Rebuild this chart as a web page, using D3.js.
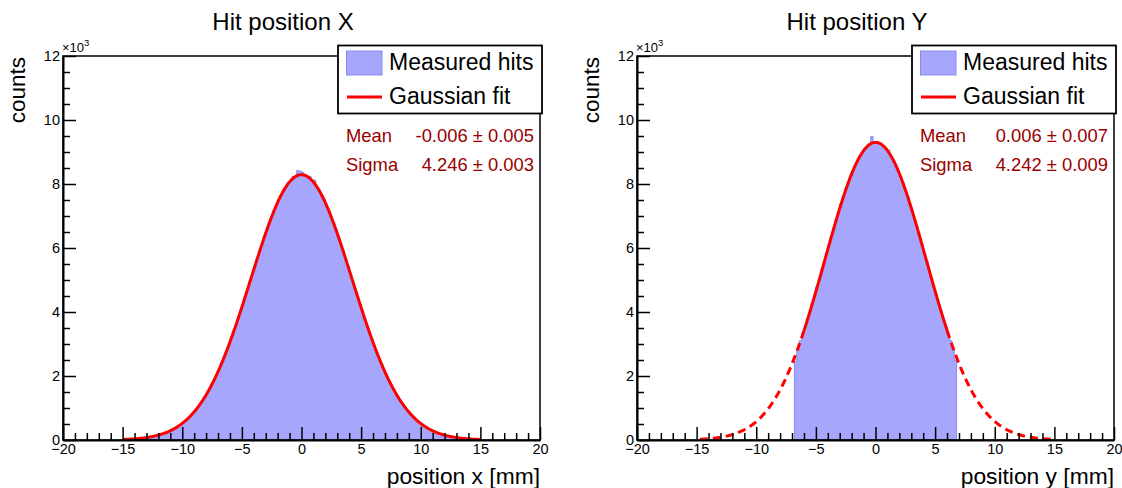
<!DOCTYPE html>
<html>
<head>
<meta charset="utf-8">
<script src="https://cdn.jsdelivr.net/npm/d3@7"></script>
<style>
  body { margin: 0; background: #fff; }
  svg { display: block; }
  text { font-family: "Liberation Sans", Arial, Helvetica, sans-serif; }
</style>
</head>
<body>
<svg id="chart" width="1122" height="488"></svg>
<script>
// ---- data -------------------------------------------------------------
const binWidth = 0.2;            // mm per bin

// Hit position X: bins from -15 mm to +15 mm
const xHistLow = -15;
const xCounts = [
  17, 22, 23, 30, 32, 41, 44, 55, 60, 73, 80, 97, 107, 128, 141, 166, 183, 215, 237, 276,
  303, 351, 386, 442, 486, 553, 604, 686, 748, 841, 916, 1024, 1111, 1235, 1337, 1478, 1592, 1751, 1883, 2060,
  2205, 2398, 2560, 2770, 2945, 3170, 3355, 3596, 3790, 4045, 4248, 4510, 4715, 4980, 5188, 5452, 5660, 5918, 6115, 6370,
  6552, 6790, 6955, 7180, 7318, 7525, 7630, 7815, 7890, 8050, 8085, 8230, 8200, 8420, 8400,
  8360, 8290, 8215, 8240, 8090, 8120, 7870, 7810, 7610, 7520, 7300, 7175, 6950, 6790, 6550,
  6365, 6110, 5915, 5660, 5445, 5190, 4975, 4720, 4500, 4250, 4040, 3795, 3590, 3360, 3165, 2948, 2765, 2562, 2394, 2208,
  2056, 1885, 1748, 1596, 1474, 1340, 1231, 1114, 1020, 918, 838, 750, 683, 607, 551, 487, 440, 388, 350, 305,
  275, 238, 214, 184, 165, 141, 127, 108, 96, 81, 72, 60, 54, 45, 40, 32, 30, 23, 22, 17
];

// Hit position Y: bins from -6.8 mm to +6.8 mm
const yHistLow = -6.8;
const yCounts = [
  2450, 2820, 3100, 3330, 3530, 3790, 4010, 4280, 4510, 4790, 5030, 5320, 5560, 5850, 6090, 6375, 6610,
  6890, 7110, 7380, 7585, 7840, 8010, 8245, 8400, 8600, 8720, 8890, 8975, 9110, 9150, 9260, 9480, 9320,
  9330, 9260, 9270, 9150, 9110, 9060, 8850, 8760, 8570, 8430, 8215, 8050, 7810, 7615, 7350, 7140, 6860,
  6635, 6350, 6115, 5820, 5585, 5290, 5055, 4765, 4535, 4255, 4030, 3765, 3555, 3300, 3105, 2830, 2500
];

// Gaussian fit results
const fitX = { constant: 8290, mean: -0.006, meanErr: 0.005, sigma: 4.246, sigmaErr: 0.003, range: [-15, 15] };
const fitY = { constant: 9300, mean: 0.006, meanErr: 0.007, sigma: 4.242, sigmaErr: 0.009, range: [-6, 6] };
const drawRange = [-15, 15];

// axes
const xDomain = [-20, 20];
const yDomain = [0, 12000];
const xMajorTicks = [-20, -15, -10, -5, 0, 5, 10, 15, 20];
const yMajorTicks = [0, 2000, 4000, 6000, 8000, 10000, 12000];

const titles = ["Hit position X", "Hit position Y"];
const xTitles = ["position x [mm]", "position y [mm]"];
const yTitle = "counts";
const legendLabels = ["Measured hits", "Gaussian fit"];

// ---- drawing ----------------------------------------------------------
const svg = d3.select("#chart");
const FILL = "#a6a6fc", LINE = "#8a8af6", RED = "#ff0000", STAT = "#990000";

const panels = [
  { off: 0,   title: titles[0], xTitle: xTitles[0], low: xHistLow, counts: xCounts, fit: fitX },
  { off: 574, title: titles[1], xTitle: xTitles[1], low: yHistLow, counts: yCounts, fit: fitY }
];

const fmt3 = d3.format(".3f");

panels.forEach(p => {
  const L = 63 + p.off, R = 540 + p.off, T = 56, B = 440;
  const x = d3.scaleLinear().domain(xDomain).range([L, R]);
  const y = d3.scaleLinear().domain(yDomain).range([B, T]);
  const g = svg.append("g");

  // histogram bins as steps
  const pts = [];
  p.counts.forEach((c, i) => {
    const x0 = p.low + i * binWidth, x1 = x0 + binWidth;
    pts.push([x0, c], [x1, c]);
  });
  g.append("path")
    .attr("d", d3.area().x(d => x(d[0])).y0(y(0)).y1(d => y(d[1]))(pts))
    .attr("fill", FILL);
  const outline = [[pts[0][0], 0], ...pts, [pts[pts.length - 1][0], 0]];
  g.append("path")
    .attr("d", d3.line().x(d => x(d[0])).y(d => y(d[1]))(outline))
    .attr("fill", "none").attr("stroke", LINE).attr("stroke-width", 1);

  // fitted gaussian
  const f = p.fit;
  const gauss = v => f.constant * Math.exp(-((v - f.mean) ** 2) / (2 * f.sigma * f.sigma));
  const sample = (a, b) => d3.range(a, b + 1e-9, 0.05).map(v => [v, gauss(v)]);
  const line = d3.line().x(d => x(d[0])).y(d => y(d[1]));
  if (f.range[0] > drawRange[0]) {
    [[f.range[0], drawRange[0]], [f.range[1], drawRange[1]]].forEach(([a, b]) => {
      const s = a < b ? sample(a, b) : sample(b, a).reverse();
      g.append("path").attr("d", line(s)).attr("fill", "none")
        .attr("stroke", RED).attr("stroke-width", 3).attr("stroke-dasharray", "8,5");
    });
  }
  g.append("path").attr("d", line(sample(f.range[0], f.range[1]))).attr("fill", "none")
    .attr("stroke", RED).attr("stroke-width", 3);

  // frame
  g.append("rect").attr("x", L).attr("y", T).attr("width", R - L).attr("height", B - T)
    .attr("fill", "none").attr("stroke", "#000").attr("stroke-width", 1.5);

  // x axis: major + minor ticks pointing inward
  const xMinor = d3.range(xDomain[0], xDomain[1] + 0.5, 1).filter(v => !xMajorTicks.includes(v));
  const xa = g.append("g").attr("transform", `translate(0,${B})`)
    .call(d3.axisBottom(x).tickValues(xMajorTicks).tickSize(-13).tickSizeOuter(0));
  xa.select(".domain").attr("stroke-width", 2);
  xa.selectAll(".tick line").attr("stroke-width", 1.5);
  xa.selectAll(".tick text").attr("y", 14).attr("dy", 0)
    .attr("font-size", 14.5).attr("font-family", null).attr("fill", "#000");
  const xm = g.append("g").attr("transform", `translate(0,${B})`)
    .call(d3.axisBottom(x).tickValues(xMinor).tickSize(-7).tickSizeOuter(0).tickFormat(""));
  xm.select(".domain").remove();
  xm.selectAll(".tick line").attr("stroke-width", 1.5);

  // y axis
  const yMinor = d3.range(yDomain[0], yDomain[1] + 1, 500).filter(v => !yMajorTicks.includes(v));
  const ya = g.append("g").attr("transform", `translate(${L},0)`)
    .call(d3.axisLeft(y).tickValues(yMajorTicks).tickSize(-13).tickSizeOuter(0).tickFormat(d => d / 1000));
  ya.select(".domain").attr("stroke-width", 2);
  ya.selectAll(".tick line").attr("stroke-width", 1.5);
  ya.selectAll(".tick text").attr("x", -3).attr("font-size", 14.5).attr("font-family", null).attr("fill", "#000");
  const ym = g.append("g").attr("transform", `translate(${L},0)`)
    .call(d3.axisLeft(y).tickValues(yMinor).tickSize(-7).tickSizeOuter(0).tickFormat(""));
  ym.select(".domain").remove();
  ym.selectAll(".tick line").attr("stroke-width", 1.5);

  // exponent marker
  const ex = g.append("text").attr("x", L - 1).attr("y", 52).attr("font-size", 13);
  ex.append("tspan").text("\u00d710");
  ex.append("tspan").attr("dy", -6).attr("font-size", 9.5).text("3");

  // titles
  g.append("text").attr("x", 283 + p.off).attr("y", 30).attr("text-anchor", "middle")
    .attr("font-size", 24).text(p.title);
  g.append("text").attr("x", R).attr("y", 484).attr("text-anchor", "end")
    .attr("font-size", 22.8).text(p.xTitle);
  g.append("text").attr("transform", `translate(${25 + p.off},${57}) rotate(-90)`)
    .attr("text-anchor", "end").attr("font-size", 22.5).text(yTitle);

  // legend
  const lx = 338 + p.off, ly = 45.5;
  g.append("rect").attr("x", lx).attr("y", ly).attr("width", 204).attr("height", 68)
    .attr("fill", "#fff").attr("stroke", "#000").attr("stroke-width", 1.8);
  g.append("rect").attr("x", lx + 8.5).attr("y", ly + 5.5).attr("width", 35.5).attr("height", 24)
    .attr("fill", FILL).attr("stroke", LINE).attr("stroke-width", 1);
  g.append("line").attr("x1", lx + 9).attr("x2", lx + 44).attr("y1", ly + 51.5).attr("y2", ly + 51.5)
    .attr("stroke", RED).attr("stroke-width", 3);
  g.append("text").attr("x", lx + 51).attr("y", ly + 24).attr("font-size", 23).text(legendLabels[0]);
  g.append("text").attr("x", lx + 51).attr("y", ly + 58).attr("font-size", 23).text(legendLabels[1]);

  // fit statistics
  const stats = [
    ["Mean", `${fmt3(f.mean).replace("\u2212", "-")} \u00b1 ${fmt3(f.meanErr)}`],
    ["Sigma", `${fmt3(f.sigma)} \u00b1 ${fmt3(f.sigmaErr)}`]
  ];
  stats.forEach(([k, v], i) => {
    const by = 142 + i * 28.5;
    g.append("text").attr("x", 346 + p.off).attr("y", by).attr("font-size", 18.4)
      .attr("fill", STAT).text(k);
    g.append("text").attr("x", 534 + p.off).attr("y", by).attr("font-size", 18.4)
      .attr("text-anchor", "end").attr("fill", STAT).text(v);
  });
});
</script>
</body>
</html>
